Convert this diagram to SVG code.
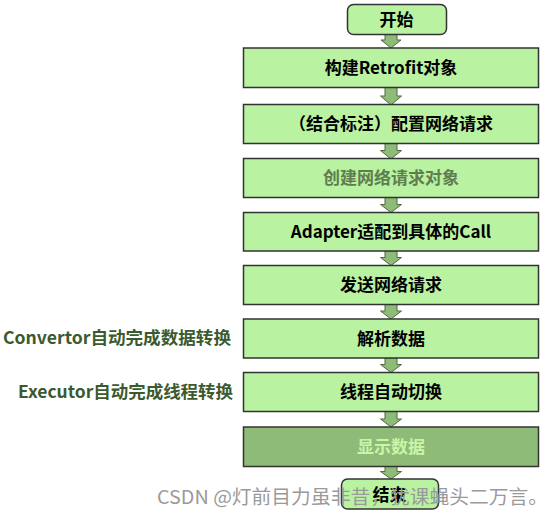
<svg xmlns="http://www.w3.org/2000/svg" width="551" height="518" viewBox="0 0 551 518">
<style>
.box{fill:#b9f2a1;stroke:#333;stroke-width:1.5}
.dark{fill:#8fbb78;stroke:#333;stroke-width:1.5}
.t{font-family:"Noto Sans CJK SC","Liberation Sans",sans-serif;font-weight:bold;font-size:17px;fill:#000;text-anchor:middle}
.side{font-family:"Noto Sans CJK SC","Liberation Sans",sans-serif;font-weight:bold;font-size:17px;fill:#3b5a2e;text-anchor:end}
.arr{fill:#8fbb78;stroke:#4d6b3d;stroke-width:1}
.wm{font-family:"Noto Sans CJK SC","Liberation Sans",sans-serif;font-size:19px;fill:#9a9a9a}
</style>
<g id="connectors">
<path class="arr" d="M390,34.5 h6 h6 v5.5 h4 l-10,8 l-10,-8 h4 z" transform="translate(-5,0)"/>
<path class="arr" d="M385,87.5 h12 v8.5 h4.5 l-10.5,9 l-10.5,-9 h4.5 z"/>
<path class="arr" d="M385,143.5 h12 v7 h4.5 l-10.5,8.5 l-10.5,-8.5 h4.5 z"/>
<path class="arr" d="M385,197.5 h12 v7 h4.5 l-10.5,8 l-10.5,-8 h4.5 z"/>
<path class="arr" d="M385,251 h12 v6.5 h4.5 l-10.5,8 l-10.5,-8 h4.5 z"/>
<path class="arr" d="M385,304.5 h12 v6.5 h4.5 l-10.5,8 l-10.5,-8 h4.5 z"/>
<path class="arr" d="M385,358 h12 v6.5 h4.5 l-10.5,8 l-10.5,-8 h4.5 z"/>
<path class="arr" d="M385,411.5 h12 v7.5 h4.5 l-10.5,8 l-10.5,-8 h4.5 z"/>
<path class="arr" d="M385,466.5 h12 v5 h4.5 l-10.5,7.5 l-10.5,-7.5 h4.5 z"/>
</g>
<g id="start"><rect class="box" x="347.5" y="4.5" width="99" height="30" rx="6"/><text class="t" x="396.5" y="25.5">开始</text></g>
<g id="n1"><rect class="box" x="243.5" y="48" width="295" height="39.5"/><text class="t" x="391" y="74">构建Retrofit对象</text></g>
<g id="n2"><rect class="box" x="243.5" y="104.5" width="295" height="39"/><text class="t" x="391" y="130">（结合标注）配置网络请求</text></g>
<g id="n3"><rect class="box" x="243.5" y="158.5" width="295" height="39"/><text class="t" x="391" y="184" style="fill:#5e7e4f">创建网络请求对象</text></g>
<g id="n4"><rect class="box" x="243.5" y="212.5" width="295" height="38.5"/><text class="t" x="391" y="237.5">Adapter适配到具体的Call</text></g>
<g id="n5"><rect class="box" x="243.5" y="265.5" width="295" height="39"/><text class="t" x="391" y="291">发送网络请求</text></g>
<g id="n6"><rect class="box" x="243.5" y="319" width="295" height="39"/><text class="t" x="391" y="344.5">解析数据</text></g>
<g id="n7"><rect class="box" x="243.5" y="372.5" width="295" height="39"/><text class="t" x="391" y="398">线程自动切换</text></g>
<g id="n8"><rect class="dark" x="243.5" y="427" width="295" height="39.5"/><text class="t" x="391" y="452.5" style="fill:#c8f5a8">显示数据</text></g>
<g id="end"><rect class="box" x="341.5" y="479" width="97" height="30" rx="6"/><text class="t" x="389.5" y="500.5">结束</text></g>
<g id="labels">
<text class="side" x="231" y="344" textLength="228" lengthAdjust="spacingAndGlyphs">Convertor自动完成数据转换</text>
<text class="side" x="233" y="398" textLength="215" lengthAdjust="spacingAndGlyphs">Executor自动完成线程转换</text>
</g>
<text class="wm" x="157" y="504" textLength="391" lengthAdjust="spacingAndGlyphs">CSDN @灯前目力虽非昔，犹课蝇头二万言。</text>
</svg>
